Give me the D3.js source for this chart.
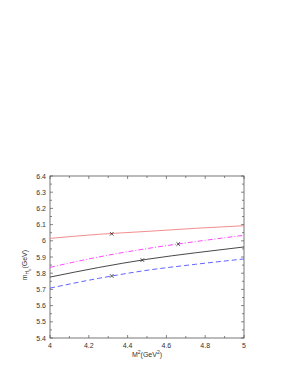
<html>
<script src="https://d3js.org/d3.v7.min.js"></script>
<style>
  body { margin:0; background:#fff; }
  text { font-family:"Liberation Sans", Arial, sans-serif; fill:#333; }
</style>
<body>
<svg id="plot"></svg>
<script>
// M^2 sample points
var xVals = [4.0, 4.25, 4.5, 4.75, 5.0];
// curves
var redVals     = [6.015, 6.040, 6.058, 6.077, 6.093];
var magentaVals = [5.836, 5.900, 5.952, 5.995, 6.034];
var blackVals   = [5.776, 5.835, 5.886, 5.926, 5.962];
var blueVals    = [5.708, 5.768, 5.818, 5.855, 5.888];
// marked points [x, y]
var markers = [[4.318, 6.043], [4.661, 5.980], [4.476, 5.881], [4.318, 5.783]];

var xTicks = [4, 4.2, 4.4, 4.6, 4.8, 5];
var yTicks = [5.4, 5.5, 5.6, 5.7, 5.8, 5.9, 6, 6.1, 6.2, 6.3, 6.4];

var screen = {width:295, height:382};
var margins = {top:176, left:50, right:51, bottom:44};
var graph = {
    width: screen.width - margins.left - margins.right,
    height: screen.height - margins.top - margins.bottom
};

var svg = d3.select("#plot")
    .attr("width", screen.width)
    .attr("height", screen.height);

var xScale = d3.scaleLinear().domain([4,5]).range([0, graph.width]);
var yScale = d3.scaleLinear().domain([5.4,6.4]).range([graph.height, 0]);

var g = svg.append("g")
    .attr("transform","translate("+margins.left+","+margins.top+")");

// frame
g.append("rect")
    .attr("width", graph.width).attr("height", graph.height)
    .attr("fill","none").attr("stroke","#555").attr("stroke-width",0.8);

// ticks (inward, all four sides)
var xMinor = d3.range(4, 5.001, 0.1);
var yMinor = d3.range(5.4, 6.401, 0.05);
var tickCol = "#555";
xMinor.forEach(function(v,i) {
    var len = (i % 2 == 0) ? 3 : 2;
    g.append("line").attr("x1",xScale(v)).attr("x2",xScale(v))
        .attr("y1",graph.height).attr("y2",graph.height-len)
        .attr("stroke",tickCol).attr("stroke-width",0.7);
    g.append("line").attr("x1",xScale(v)).attr("x2",xScale(v))
        .attr("y1",0).attr("y2",len)
        .attr("stroke",tickCol).attr("stroke-width",0.7);
});
yMinor.forEach(function(v,i) {
    var len = (i % 2 == 0) ? 3 : 2;
    g.append("line").attr("y1",yScale(v)).attr("y2",yScale(v))
        .attr("x1",0).attr("x2",len)
        .attr("stroke",tickCol).attr("stroke-width",0.7);
    g.append("line").attr("y1",yScale(v)).attr("y2",yScale(v))
        .attr("x1",graph.width).attr("x2",graph.width-len)
        .attr("stroke",tickCol).attr("stroke-width",0.7);
});

// tick labels
g.selectAll(".xl").data(xTicks).enter().append("text")
    .attr("x", function(d){ return xScale(d); })
    .attr("y", graph.height + 10)
    .attr("text-anchor","middle").attr("font-size","7px")
    .text(function(d){ return d; });
g.selectAll(".yl").data(yTicks).enter().append("text")
    .attr("x", -4)
    .attr("y", function(d){ return yScale(d) + 2.5; })
    .attr("text-anchor","end").attr("font-size","7px")
    .text(function(d){ return d; });

// axis titles
var xl = svg.append("text")
    .attr("x", margins.left + graph.width/2)
    .attr("y", 357)
    .attr("text-anchor","middle").attr("font-size","7px");
xl.append("tspan").text("M");
xl.append("tspan").attr("dy",-3).attr("font-size","5px").text("2");
xl.append("tspan").attr("dy",3).text("(GeV");
xl.append("tspan").attr("dy",-3).attr("font-size","5px").text("2");
xl.append("tspan").attr("dy",3).text(")");

var yl = svg.append("text")
    .attr("transform","translate(27,"+(margins.top+yScale(5.85))+") rotate(-90)")
    .attr("text-anchor","middle").attr("font-size","7px");
yl.append("tspan").text("m");
yl.append("tspan").attr("dy",2).attr("font-size","5px").text("H");
yl.append("tspan").attr("dy",1.5).attr("font-size","4px").text("b");
yl.append("tspan").attr("dy",-3.5).text("(GeV)");

// curves
var series = [
    {vals: redVals,     color:"#f08080", dash:null},
    {vals: magentaVals, color:"#ff33ff", dash:"5,2,1,2"},
    {vals: blackVals,   color:"#333333", dash:null},
    {vals: blueVals,    color:"#5050ff", dash:"5,3"}
];
var line = d3.line()
    .x(function(d,i){ return xScale(xVals[i]); })
    .y(function(d){ return yScale(d); })
    .curve(d3.curveMonotoneX);

g.selectAll(".curve").data(series).enter().append("path")
    .attr("d", function(s){ return line(s.vals); })
    .attr("fill","none")
    .attr("stroke", function(s){ return s.color; })
    .attr("stroke-width",0.9)
    .attr("stroke-dasharray", function(s){ return s.dash; });

// x markers
markers.forEach(function(m) {
    var cx = xScale(m[0]), cy = yScale(m[1]);
    g.append("path")
        .attr("d","M"+(cx-1.8)+","+(cy-1.8)+"L"+(cx+1.8)+","+(cy+1.8)+
                  "M"+(cx-1.8)+","+(cy+1.8)+"L"+(cx+1.8)+","+(cy-1.8))
        .attr("stroke","#222").attr("stroke-width",0.8);
});
</script>
</body>
</html>
